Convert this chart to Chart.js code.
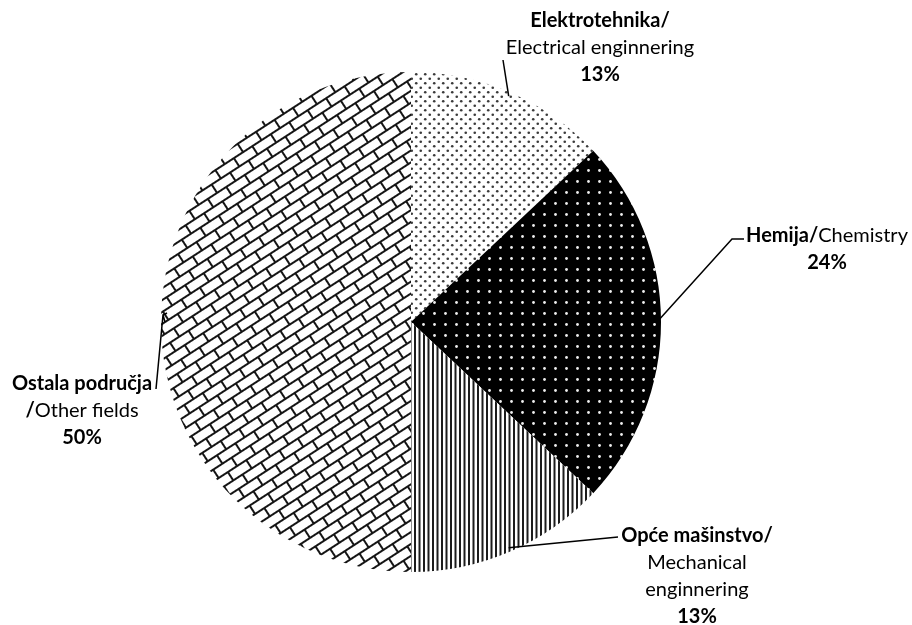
<!DOCTYPE html>
<html>
<head>
<meta charset="utf-8">
<script src="https://cdn.jsdelivr.net/npm/chart.js@4.4.0/dist/chart.umd.min.js"></script>
<style>
  html, body { margin: 0; padding: 0; background: #fff; }
  #wrap { width: 912px; height: 625px; position: relative; }
</style>
</head>
<body>
<div id="wrap"><canvas id="chart"></canvas></div>
<script>
// data (clockwise from 12 o'clock)
const categories = ["Elektrotehnika", "Hemija", "Opće mašinstvo", "Ostala područja"];
const shares = [13, 24, 13, 50];

// label text, split into [text, bold] pieces per line
const labelLines = [
  [[["Elektrotehnika/", true]], [["Electrical enginnering", false]], [["13%", true]]],
  [[["Hemija/", true], ["Chemistry", false]], [["24%", true]]],
  [[["Opće mašinstvo/", true]], [["Mechanical", false]], [["enginnering", false]], [["13%", true]]],
  [[["Ostala područja", true]], [["/", true], ["Other fields", false]], [["50%", true]]]
];

// where the label blocks sit and where the leader lines bend
const labelPos = [[600, 21], [827, 236], [697, 536], [82, 384]];
const leaderPts = [
  [[503, 60]],
  [[732, 239], [744, 239]],
  [[618, 537]],
  [[163, 315], [167, 313], [163, 315], [156, 389]]
];
const lineGap = 27;
const fontSize = 20;
const fontFam = "Lato, 'Open Sans', sans-serif";

function makeTile(w, h, draw) {
  let c = document.createElement("canvas");
  c.width = w; c.height = h;
  let g = c.getContext("2d");
  draw(g, w, h);
  return c;
}

function dot(g, x, y, r) { g.beginPath(); g.arc(x, y, r, 0, Math.PI * 2); g.fill(); }

let ctx = document.getElementById("chart").getContext("2d");

// light dotted
let pDots = ctx.createPattern(makeTile(9, 9, (g, w, h) => {
  g.fillStyle = "#fff"; g.fillRect(0, 0, w, h);
  g.fillStyle = "#3a3a3a";
  dot(g, 2.25, 2.25, 1.3); dot(g, 6.75, 6.75, 1.3);
}), "repeat");

// black with white dots
let pBlack = ctx.createPattern(makeTile(11, 11, (g, w, h) => {
  g.fillStyle = "#000"; g.fillRect(0, 0, w, h);
  g.fillStyle = "#eee";
  dot(g, 5.5, 5.5, 1.4);
}), "repeat");

// vertical stripes
let pStripes = ctx.createPattern(makeTile(9, 4, (g, w, h) => {
  g.fillStyle = "#fff"; g.fillRect(0, 0, w, h);
  g.fillStyle = "#1c1c1c";
  g.fillRect(0, 0, 2, h); g.fillRect(4.5, 0, 2, h);
}), "repeat");

// brick rows, then turned so they run up to the right
let pBrick = ctx.createPattern(makeTile(22, 20, (g, w, h) => {
  g.fillStyle = "#fff"; g.fillRect(0, 0, w, h);
  g.strokeStyle = "#151515"; g.lineWidth = 2; g.lineCap = "round";
  g.beginPath();
  for (let oy = -h; oy <= h; oy += h) {
    g.moveTo(0, oy); g.lineTo(w, oy);
    g.moveTo(0, oy + h / 2); g.lineTo(w, oy + h / 2);
    for (let ox = -w; ox <= w; ox += w) {
      g.moveTo(ox, oy); g.lineTo(ox, oy + h / 2);
      g.moveTo(ox + w / 2, oy + h / 2); g.lineTo(ox + w / 2, oy + h);
    }
  }
  g.stroke();
}), "repeat");
pBrick.setTransform(new DOMMatrix().rotate(-33));

const fills = [pDots, pBlack, pStripes, pBrick];

const labelPlugin = {
  id: "pieLabels",
  afterDraw(chart) {
    let c = chart.ctx;
    let arcs = chart.getDatasetMeta(0).data;
    c.save();
    c.strokeStyle = "#000";
    c.lineWidth = 1.5;
    arcs.forEach((a, i) => {
      let p = a.getProps(["x", "y", "startAngle", "endAngle", "outerRadius"], true);
      let mid = (p.startAngle + p.endAngle) / 2;
      let r = p.outerRadius - 4;
      c.beginPath();
      c.moveTo(p.x + Math.cos(mid) * r, p.y + Math.sin(mid) * r);
      leaderPts[i].forEach(pt => c.lineTo(pt[0], pt[1]));
      c.stroke();

      // text block
      let [cx, cy] = labelPos[i];
      c.textBaseline = "middle";
      c.textAlign = "left";
      c.fillStyle = "#000";
      labelLines[i].forEach((line, k) => {
        let total = 0;
        line.forEach(seg => {
          c.font = (seg[1] ? "bold " : "") + fontSize + "px " + fontFam;
          total += c.measureText(seg[0]).width;
        });
        let x = cx - total / 2;
        let y = cy + k * lineGap;
        line.forEach(seg => {
          c.font = (seg[1] ? "bold " : "") + fontSize + "px " + fontFam;
          c.fillText(seg[0], x, y);
          x += c.measureText(seg[0]).width;
        });
      });
    });
    c.restore();
  }
};

new Chart(ctx, {
  type: "pie",
  data: {
    labels: categories,
    datasets: [{ data: shares, backgroundColor: fills, borderWidth: 0 }]
  },
  options: {
    responsive: true,
    maintainAspectRatio: false,
    animation: false,
    events: [],
    layout: { padding: { left: 161, right: 251, top: 72, bottom: 53 } },
    plugins: { legend: { display: false }, tooltip: { enabled: false } }
  },
  plugins: [labelPlugin]
});
</script>
</body>
</html>
